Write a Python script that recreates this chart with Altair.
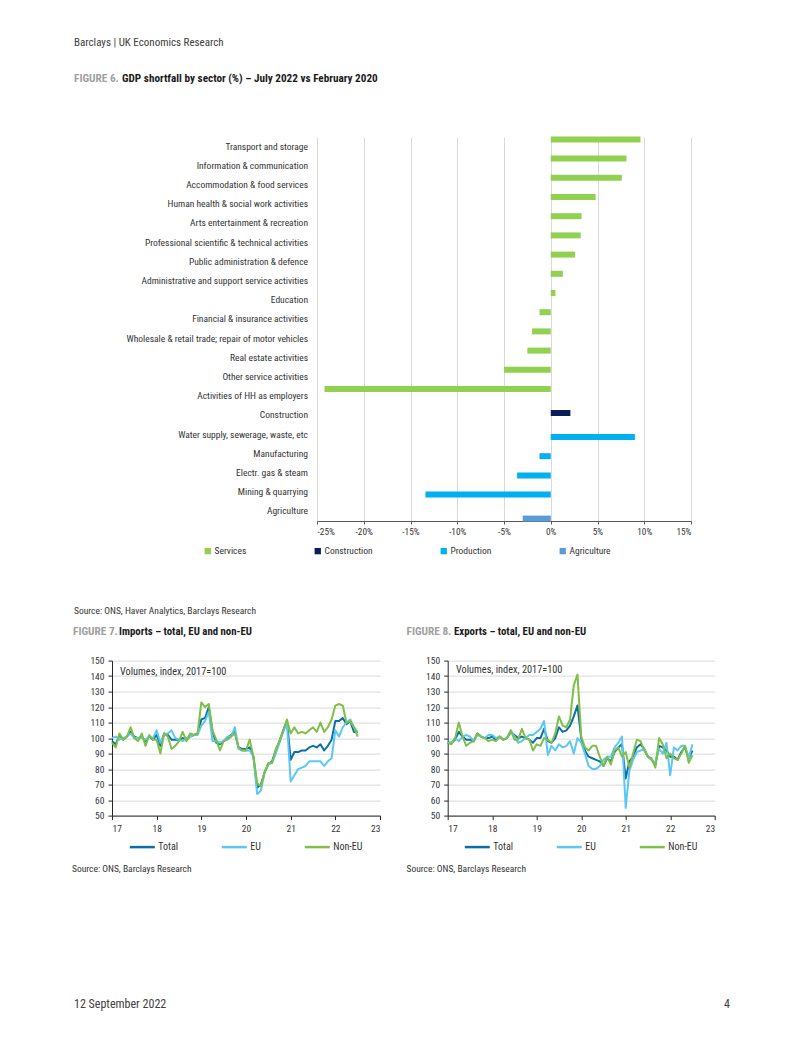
import altair as alt
import pandas as pd

FONT = "Liberation Sans Narrow, Source Sans Pro, Roboto Condensed, Lato, sans-serif"

# ---------------- Figure 6 data ----------------
sectors = [
    "Transport and storage", "Information & communication", "Accommodation & food services",
    "Human health &  social work activities", "Arts entertainment & recreation",
    "Professional scientific & technical activities", "Public administration & defence",
    "Administrative and support service activities", "Education", "Financial & insurance activities",
    "Wholesale & retail trade; repair of motor vehicles", "Real estate activities",
    "Other service activities", "Activities of HH as employers", "Construction",
    "Water supply, sewerage, waste, etc", "Manufacturing", "Electr. gas & steam",
    "Mining & quarrying", "Agriculture",
]
shortfall = [9.6, 8.1, 7.6, 4.8, 3.3, 3.2, 2.6, 1.3, 0.5, -1.2, -2.0, -2.5, -5.0, -24.2,
             2.1, 9.0, -1.2, -3.6, -13.4, -3.0]
sector_group = ["Services"] * 14 + ["Construction"] + ["Production"] * 4 + ["Agriculture"]
group_order = ["Services", "Construction", "Production", "Agriculture"]
group_colors = ["#92D050", "#0D1D5A", "#00B0F0", "#5B9BD5"]
pct_ticks = [-25, -20, -15, -10, -5, 0, 5, 10, 15]

# ---------------- Figures 7 & 8 data (monthly, Jan 2017 - Jul 2022) ----------------
imp_total = [98, 96, 102, 99, 101, 104, 101, 100, 101, 98, 101, 99,
             102, 95, 103, 102, 99, 99, 99, 100, 99, 101, 102, 103,
             112, 113, 120, 104, 97, 96, 98, 100, 102, 104, 94, 93,
             93, 94, 88, 68, 70, 78, 83, 85, 92, 98, 105, 111,
             86, 91, 91, 92, 92, 94, 95, 94, 96, 92, 95, 99,
             111, 111, 113, 109, 111, 104, 104]
imp_eu = [100, 101, 99, 100, 101, 103, 100, 100, 100, 99, 101, 100,
          105, 97, 102, 103, 105, 100, 99, 98, 100, 101, 102, 102,
          108, 111, 117, 98, 98, 97, 98, 101, 101, 107, 93, 92,
          92, 92, 88, 64, 66, 78, 83, 84, 90, 97, 104, 110,
          72, 76, 80, 81, 82, 85, 85, 85, 85, 82, 85, 87,
          105, 101, 107, 110, 112, 107, 104]
imp_noneu = [97, 94, 103, 99, 101, 107, 100, 98, 103, 95, 102, 99,
             99, 90, 103, 101, 93, 95, 98, 104, 98, 103, 102, 103,
             123, 120, 122, 105, 99, 92, 98, 99, 101, 103, 94, 92,
             92, 99, 88, 71, 69, 78, 84, 84, 93, 98, 105, 112,
             103, 107, 103, 104, 103, 105, 107, 104, 110, 104, 107, 112,
             121, 122, 121, 110, 111, 107, 101]
exp_total = [97, 97, 99, 104, 101, 99, 99, 98, 103, 101, 100, 100,
             101, 99, 101, 99, 100, 104, 102, 100, 101, 100, 99, 97,
             100, 100, 106, 98, 97, 100, 107, 104, 105, 108, 114, 121,
             100, 92, 88, 87, 86, 85, 82, 87, 85, 91, 94, 96,
             74, 85, 88, 94, 96, 93, 88, 86, 83, 95, 94, 92,
             88, 88, 86, 91, 94, 87, 92]
exp_eu = [97, 97, 100, 98, 101, 102, 101, 98, 102, 101, 100, 102,
          102, 100, 101, 99, 100, 105, 101, 97, 98, 100, 102, 102,
          104, 106, 111, 89, 95, 92, 96, 94, 95, 98, 90, 100,
          97, 90, 82, 80, 80, 82, 86, 88, 88, 94, 97, 101,
          55, 79, 86, 91, 92, 93, 88, 86, 84, 93, 90, 97,
          76, 94, 92, 95, 95, 87, 96]
exp_noneu = [97, 96, 100, 110, 101, 95, 97, 98, 103, 101, 100, 98,
             99, 98, 101, 99, 100, 105, 99, 99, 106, 100, 99, 92,
             96, 95, 100, 99, 97, 103, 114, 108, 107, 112, 134, 141,
             101, 94, 92, 95, 95, 88, 82, 88, 83, 92, 94, 88,
             91, 81, 90, 99, 98, 92, 88, 87, 81, 100, 96, 87,
             90, 87, 86, 90, 95, 84, 89]
series_names = ["Total", "EU", "Non-EU"]
series_colors = ["#0A6FA8", "#5CC7F3", "#7DBF47"]
year_ticks = [17, 18, 19, 20, 21, 22, 23]
index_ticks = [50, 60, 70, 80, 90, 100, 110, 120, 130, 140, 150]

n_months = len(imp_total)
month_pos = [17 + i / 12 for i in range(n_months)]

one = pd.DataFrame({"k": [0]})

# panel origins on the page
OX, OY = 112, 136.4


def note(text, x, y, size=9.0, weight="normal", color="#333333", align="left"):
    return alt.Chart(one).mark_text(
        text=text, align=align, baseline="middle", fontSize=size,
        fontWeight=weight, color=color, font=FONT,
    ).encode(x=alt.value(x), y=alt.value(y))


# ---------------- Figure 6 ----------------
bar_df = pd.DataFrame({"sector": sectors, "value": shortfall, "group": sector_group})

bars = alt.Chart(bar_df).mark_bar(height=6).encode(
    x=alt.X("value:Q",
            scale=alt.Scale(domain=[-25, 15], range=[205, 579], nice=False, zero=False),
            axis=alt.Axis(values=pct_ticks, labelExpr="datum.value + '%'", title=None,
                          grid=True, gridColor="#D9D9D9", tickSize=3, labelPadding=3,
                          labelFontSize=9.3, domainColor="#595959", tickColor="#595959")),
    y=alt.Y("sector:N", sort=sectors,
            scale=alt.Scale(paddingInner=0, paddingOuter=0),
            axis=alt.Axis(title=None, labels=False, ticks=True, tickSize=3, tickBand="extent",
                          offset=-438.75, grid=False, domainColor="#262626", tickColor="#262626")),
    yOffset=alt.YOffset("group:N", sort=group_order,
                        scale=alt.Scale(domain=group_order, paddingInner=0, paddingOuter=0)),
    color=alt.Color("group:N", scale=alt.Scale(domain=group_order, range=group_colors),
                    legend=alt.Legend(title=None, orient="none", legendX=91, legendY=409,
                                      direction="horizontal", symbolType="square", symbolSize=40,
                                      labelFontSize=9.5, labelOffset=2, columnPadding=66,
                                      gridAlign="each")),
)

cat_labels = alt.Chart(bar_df).mark_text(
    align="right", baseline="middle", fontSize=9.5, color="#333333", font=FONT
).encode(
    y=alt.Y("sector:N", sort=sectors, axis=None),
    x=alt.value(196),
    text="sector:N",
)

page_box = alt.Chart(one).mark_rect(opacity=0).encode(
    x=alt.value(8 - OX), x2=alt.value(794 - OX), y=alt.value(8 - OY), y2=alt.value(1026 - OY)
)

page_texts = [
    note("Barclays | UK Economics Research", 74 - OX, 42 - OY, size=11, color="#404040"),
    note("FIGURE 6.", 74 - OX, 78 - OY, size=11.3, weight="bold", color="#A0A0A0"),
    note("GDP shortfall by sector (%) \u2013 July 2022 vs February 2020", 122 - OX, 78 - OY,
         size=11.2, weight="bold", color="#1A1A1A"),
    note("Source: ONS, Haver Analytics, Barclays Research", 74 - OX, 610 - OY, size=9.5),
    note("FIGURE 7.", 73 - OX, 631 - OY, size=11.3, weight="bold", color="#A0A0A0"),
    note("Imports \u2013 total, EU and non-EU", 119 - OX, 631 - OY, size=10.8, weight="bold",
         color="#1A1A1A"),
    note("FIGURE 8.", 406.5 - OX, 631 - OY, size=11.3, weight="bold", color="#A0A0A0"),
    note("Exports \u2013 total, EU and non-EU", 454 - OX, 631 - OY, size=10.8, weight="bold",
         color="#1A1A1A"),
    note("Source: ONS, Barclays Research", 72 - OX, 868 - OY, size=9.5),
    note("Source: ONS, Barclays Research", 406.5 - OX, 868 - OY, size=9.5),
    note("12 September 2022", 74 - OX, 1003 - OY, size=12, color="#404040"),
    note("4", 730 - OX, 1003 - OY, size=12, color="#404040", align="right"),
]

top = alt.layer(page_box, bars, cat_labels, *page_texts).properties(width=579, height=384)


# ---------------- Figures 7 & 8 ----------------
def line_panel(total, eu, noneu, legend_x, ann_x, ann_y, width):
    df = pd.DataFrame({
        "x": month_pos * 3,
        "value": total + eu + noneu,
        "series": ["Total"] * n_months + ["EU"] * n_months + ["Non-EU"] * n_months,
    })
    x = alt.X("x:Q", scale=alt.Scale(domain=[17, 23], nice=False, zero=False),
              axis=alt.Axis(values=year_ticks, format="d", title=None, grid=False,
                            tickSize=4, labelPadding=4, labelFontSize=9.5,
                            domainColor="#262626", tickColor="#262626"))
    y = alt.Y("value:Q", scale=alt.Scale(domain=[50, 150], nice=False, zero=False),
              axis=alt.Axis(values=index_ticks, title=None, grid=True, gridColor="#D9D9D9",
                            tickSize=4, labelPadding=4, labelFontSize=9.5,
                            domainColor="#262626", tickColor="#262626"))
    color = alt.Color("series:N", scale=alt.Scale(domain=series_names, range=series_colors),
                      legend=alt.Legend(title=None, orient="none", legendX=legend_x, legendY=172.5,
                                        direction="horizontal", symbolType="stroke",
                                        symbolSize=625, symbolStrokeWidth=2.5, gridAlign="each",
                                        labelFontSize=10, labelOffset=2, columnPadding=38))
    layers = [
        alt.Chart(df).transform_filter(alt.datum.series == s)
        .mark_line(strokeWidth=2, strokeJoin="round")
        .encode(x=x, y=y, color=color)
        for s in series_names
    ]
    ann = note("Volumes, index, 2017=100", ann_x, ann_y, size=10.3)
    return alt.layer(*layers, ann).properties(width=width, height=155)


imports = line_panel(imp_total, imp_eu, imp_noneu, 16.3, 8, 11.7, 268)
exports = line_panel(exp_total, exp_eu, exp_noneu, 15.6, 8.3, 9, 267)

bottom = alt.hconcat(imports, exports, spacing=67.7, bounds="flush").resolve_scale(
    x="independent", y="independent", color="independent"
).resolve_legend(color="independent")

chart = alt.vconcat(top, bottom, spacing=139.6, bounds="flush").resolve_scale(
    x="independent", y="independent", color="independent"
).resolve_legend(color="independent").properties(padding=0).configure_view(
    stroke=None
).configure_axis(
    labelFont=FONT, labelColor="#333333"
).configure_legend(
    labelFont=FONT, labelColor="#333333"
)

chart.save("out.html", embed_options={"renderer": "svg", "actions": False})
